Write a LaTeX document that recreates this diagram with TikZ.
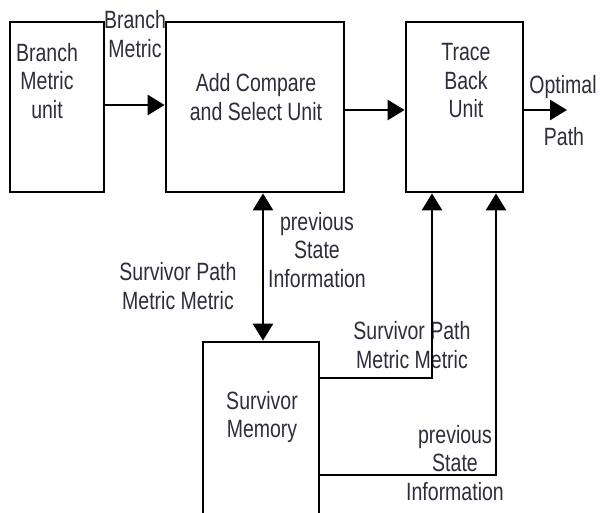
\documentclass[tikz,border=0pt]{standalone}
\usepackage{fontspec}
\setmainfont{Liberation Sans}[FakeStretch=0.78]
\usetikzlibrary{arrows.meta}
\definecolor{txtc}{RGB}{45,45,60}
\begin{document}
\begin{tikzpicture}[x=1pt,y=-1pt,
  blk/.style={draw,line width=2.8pt,rectangle,inner sep=0pt},
  lbl/.style={align=center,inner sep=0pt,text=txtc,font=\fontsize{25}{28.5}\selectfont},
  conn/.style={line width=2.8pt},
  arr/.style={conn,-{Triangle[length=17pt,width=20pt]}},
  darr/.style={conn,{Triangle[length=17pt,width=20pt]}-{Triangle[length=17pt,width=20pt]}}]
\useasboundingbox (0,0) rectangle (600,513);
% blocks
\node[blk,minimum width=94pt,minimum height=170pt] (bmu) at (57,107) {};
\node[blk,minimum width=178pt,minimum height=170pt] (acs) at (255,107) {};
\node[blk,minimum width=117pt,minimum height=170pt] (tbu) at (464.5,107) {};
\node[blk,minimum width=116pt,minimum height=176pt] (sm) at (261,430) {};
% texts in blocks
\node[lbl] (tbmu) at (47,81) {Branch\\Metric\\unit};
\node[lbl] (tacs) at (256,97) {Add Compare\\and Select Unit};
\node[lbl] (ttbu) at (466,81) {Trace\\Back\\Unit};
\node[lbl] (tsm) at (262,417) {Survivor\\Memory};
% connector labels
\node[lbl] (lbm) at (135,34) {Branch\\Metric};
\node[lbl] (lopt) at (563,87) {Optimal};
\node[lbl] (lpath) at (564,137) {Path};
\node[lbl] (lpsi1) at (317,250) {previous\\State\\Information};
\node[lbl] (lspm1) at (178,286) {Survivor Path\\Metric Metric};
\node[lbl] (lspm2) at (412,345) {Survivor Path\\Metric Metric};
\node[lbl] (lpsi2) at (455,463) {previous\\State\\Information};
% connectors
\coordinate (opt) at (567,110);
\coordinate (c1) at (432,378);
\coordinate (c2) at (496,475);
\draw[arr] (bmu.east |- 0,105) -- (acs.west |- 0,105);
\draw[arr] (acs.east |- 0,110) -- (tbu.west |- 0,110);
\draw[arr] (tbu.east |- opt) -- (opt);
\draw[darr] (acs.south -| 263,0) -- (sm.north -| 263,0);
\draw[arr] (sm.east |- c1) -- (c1) -- (tbu.south -| c1);
\draw[arr] (sm.east |- c2) -- (c2) -- (tbu.south -| c2);
\end{tikzpicture}
\end{document}
